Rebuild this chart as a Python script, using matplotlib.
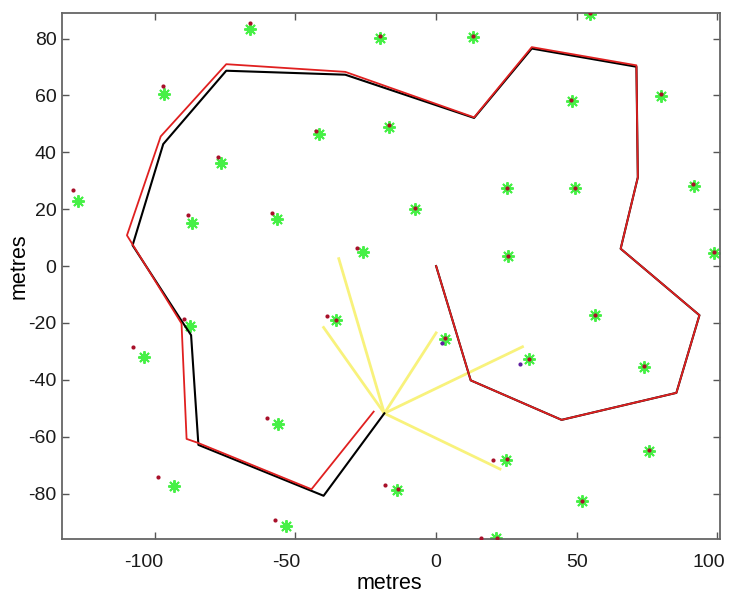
import matplotlib
matplotlib.use('Agg')
import matplotlib.pyplot as plt
import matplotlib.transforms as mtransforms

plt.rcParams['font.family'] = ['Liberation Sans', 'DejaVu Sans']
plt.rcParams['axes.unicode_minus'] = False

# true landmark positions (green asterisks)
lm_x = [-66.0, -19.9, 13.1, 54.6, -96.8, 48.2, 80.1, -41.8, -16.7, -76.6,
        -127.3, -86.9, -56.7, -7.4, 25.2, 49.3, 91.5, -25.9, 25.5, 98.9,
        -87.5, -35.6, 3.2, 33.1, 56.4, 73.9, -103.8, -56.1, -93.1, -53.2,
        -13.9, 24.8, 75.6, 51.7, 21.3]
lm_y = [83.4, 80.2, 80.6, 88.7, 60.6, 58.1, 59.9, 46.6, 49.0, 36.4,
        23.0, 15.3, 16.7, 19.9, 27.3, 27.3, 28.3, 4.8, 3.4, 4.5,
        -21.0, -19.1, -25.5, -32.8, -17.3, -35.4, -32.1, -55.6, -77.5, -91.6,
        -78.7, -68.2, -65.0, -82.8, -95.7]

# estimated landmark positions (red dots)
est_x = [-66.0, -20.1, 13.1, 54.6, -97.2, 48.1, 80.0, -42.6, -16.9, -77.7,
         -129.0, -88.3, -58.2, -7.4, 25.2, 49.3, 91.3, -28.0, 25.5, 98.9,
         -89.5, -38.8, 3.3, 33.0, 56.4, 73.9, -107.6, -60.0, -99.0, -57.4,
         -18.1, 20.3, 75.6, 51.7, 16.0,
         -35.5, -13.6, 25.2, 21.6]
est_y = [85.5, 81.0, 81.0, 89.0, 63.4, 58.5, 60.5, 47.6, 49.6, 38.5,
         26.6, 17.8, 18.5, 20.3, 27.5, 27.6, 28.8, 6.2, 3.6, 4.8,
         -18.5, -17.5, -25.2, -32.6, -17.1, -35.2, -28.4, -53.5, -74.2, -89.2,
         -76.9, -68.2, -64.8, -82.6, -95.7,
         -19.0, -78.5, -68.0, -95.5]

# newly observed features (blue)
new_x = [2.0, 29.8]
new_y = [-26.9, -34.5]

# true vehicle path (black)
true_x = [0.0, 12.3, 44.6, 85.4, 93.6, 65.6, 71.7, 71.2, 34.0, 13.5,
          -32.3, -74.6, -97.0, -107.9, -91.0, -87.1, -84.5, -40.0, -18.4]
true_y = [0.0, -40.2, -54.1, -44.6, -17.3, 6.1, 31.2, 70.1, 76.5, 52.1,
          67.3, 68.7, 42.9, 7.3, -18.5, -24.3, -62.9, -80.8, -51.8]

# estimated vehicle path (red)
est_px = [0.0, 12.3, 44.6, 85.4, 93.6, 65.6, 71.7, 71.2, 34.0, 13.5,
          -32.3, -74.6, -97.9, -109.9, -90.5, -88.7, -84.9, -44.3, -22.2]
est_py = [0.0, -40.2, -54.1, -44.6, -17.3, 6.1, 31.2, 70.6, 77.0, 52.3,
          68.3, 71.0, 45.6, 10.8, -20.2, -60.8, -62.1, -78.5, -51.2]

# observation lines from the vehicle (yellow)
robot = (-18.4, -51.8)
obs_x = [-34.6, -40.0, 0.0, 30.7, 22.7]
obs_y = [2.6, -21.6, -23.5, -28.4, -71.4]

xticks = [-100, -50, 0, 50, 100]
yticks = [-80, -60, -40, -20, 0, 20, 40, 60, 80]

fig = plt.figure(figsize=(7.29, 5.94), dpi=100)
ax = fig.add_axes([0.085, 0.0926, 0.903, 0.8855])

for ox, oy in zip(obs_x, obs_y):
    ax.plot([robot[0], ox], [robot[1], oy], color='#f8f27c', lw=2.0, zorder=1)

ax.plot(lm_x, lm_y, linestyle='none', marker=(8, 2, 0), markersize=9,
        markeredgewidth=1.4, color='#46f046', zorder=2)
ax.plot(true_x, true_y, color='black', lw=1.5, zorder=3)
ax.plot(est_px, est_py, color='#e02020', lw=1.3, zorder=3)
ax.plot(est_x, est_y, linestyle='none', marker='o', markersize=3,
        color='#a8102a', markeredgewidth=0, zorder=4)
ax.plot(new_x, new_y, linestyle='none', marker='o', markersize=3,
        color='#6020a0', markeredgewidth=0, zorder=4)

ax.set_xlim(-133, 101)
ax.set_ylim(-96, 89)
ax.set_xticks(xticks)
ax.set_yticks(yticks)
ax.tick_params(direction='in', length=5, width=1, colors='#555555',
               labelcolor='#1a1a1a', labelsize=14, top=True, right=True)
ax.tick_params(axis='x', pad=11)
ax.tick_params(axis='y', pad=4)
for s in ax.spines.values():
    s.set_color('#666666')
    s.set_linewidth(1.3)

# nudge x tick labels the way the original export placed them
shifts = [-11, -9, 0, 0, -9]
for lab, dx in zip(ax.get_xticklabels(), shifts):
    lab.set_transform(lab.get_transform() +
                      mtransforms.ScaledTranslation(dx / 100, 0, fig.dpi_scale_trans))

ax.set_xlabel('metres', fontsize=15.5)
ax.set_ylabel('metres', fontsize=15.5)
ax.xaxis.set_label_coords(0.498, -0.064)
ax.yaxis.set_label_coords(-0.049, 0.519)

fig.savefig('out.png', dpi=100)
